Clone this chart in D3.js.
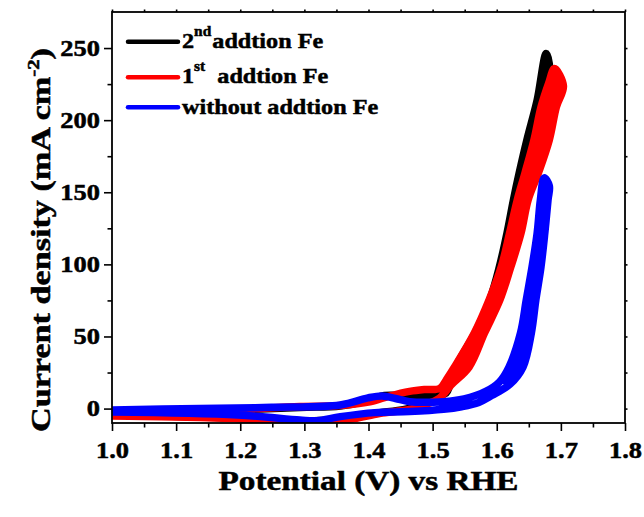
<!DOCTYPE html>
<html>
<head>
<meta charset="utf-8">
<script src="https://cdn.jsdelivr.net/npm/d3@7"></script>
<style>
  html, body { margin: 0; padding: 0; background: #fff; }
  svg { display: block; font-family: "Times New Roman", Tinos, "Liberation Serif", Times, serif; font-weight: bold; }
  svg text { font-family: "Times New Roman", Tinos, "Liberation Serif", Times, serif !important; font-weight: bold; stroke: #000; stroke-width: 0.5px; }
</style>
</head>
<body>
<svg id="chart" width="644" height="517"></svg>
<script>
// ---- axis ticks ----
const potentialTicks = [1.0, 1.1, 1.2, 1.3, 1.4, 1.5, 1.6, 1.7, 1.8];
const potentialMinorTicks = [1.05, 1.15, 1.25, 1.35, 1.45, 1.55, 1.65, 1.75];
const currentTicks = [0, 50, 100, 150, 200, 250];
const currentMinorTicks = [25, 75, 125, 175, 225];

// ---- CV scans: [potential (V vs RHE), current density (mA cm^-2)] ----
// each series: anodic scan at low current, the merged high-current band
// (anodic edge up to the turning point, cathodic edge back down), cathodic scan
const fe2Forward = [[1.000,-3.1],[1.137,-1.7],[1.293,0.8],[1.356,1.8],[1.398,5.3],[1.425,9.1],[1.464,8.7],[1.500,8.4],[1.521,10.8],[1.527,16.4]];
const fe2BandUp = [[1.536,28.8],[1.566,52.4],[1.589,75.3],[1.604,98.2],[1.616,121.8],[1.626,144.7],[1.635,163.4],[1.647,186.3],[1.663,213.9],[1.677,246.2]];
const fe2BandDown = [[1.682,239.0],[1.679,209.1],[1.671,186.3],[1.655,163.4],[1.641,144.7],[1.629,121.8],[1.615,98.2],[1.598,75.3],[1.573,52.4],[1.549,28.8]];
const fe2Reverse = [[1.523,16.4],[1.506,7.4],[1.482,2.5],[1.456,-0.6],[1.409,-3.4],[1.370,-6.5],[1.324,-8.3],[1.277,-8.3],[1.215,-7.2],[1.137,-5.8],[1.000,-4.4]];

const fe1Forward = [[1.000,-3.4],[1.137,-2.0],[1.215,-0.3],[1.293,1.5],[1.356,2.1],[1.402,4.6],[1.433,8.7],[1.464,11.9],[1.487,13.2],[1.511,13.9],[1.521,19.8]];
const fe1BandUp = [[1.534,28.8],[1.565,52.4],[1.588,75.3],[1.607,98.2],[1.620,121.8],[1.632,144.7],[1.644,163.4],[1.658,186.3],[1.669,209.1],[1.681,225.8],[1.690,235.8]];
const fe1BandDown = [[1.704,223.7],[1.693,209.1],[1.682,186.3],[1.665,163.4],[1.649,144.7],[1.638,121.8],[1.622,98.2],[1.605,75.3],[1.581,52.4],[1.557,28.8]];
const fe1Reverse = [[1.529,16.4],[1.511,7.4],[1.487,2.5],[1.464,-0.6],[1.417,-3.4],[1.378,-6.9],[1.339,-8.9],[1.293,-8.6],[1.215,-7.2],[1.137,-6.2],[1.000,-5.1]];

const noFeForward = [[1.000,-1.0],[1.137,0.1],[1.249,0.9],[1.356,2.5],[1.399,7.4],[1.421,8.7],[1.442,7.0],[1.464,4.8],[1.517,4.8],[1.549,6.7],[1.582,11.7],[1.604,18.4]];
const noFeBandUp = [[1.619,28.8],[1.637,52.4],[1.646,75.3],[1.655,98.2],[1.663,121.8],[1.668,144.7],[1.674,160.0]];
const noFeBandDown = [[1.682,154.4],[1.680,144.7],[1.675,121.8],[1.669,98.2],[1.661,75.3],[1.654,52.4],[1.641,28.8]];
const noFeReverse = [[1.621,17.0],[1.592,9.0],[1.572,4.3],[1.545,1.3],[1.517,-0.5],[1.464,-2.1],[1.410,-2.8],[1.356,-5.6],[1.319,-8.4],[1.293,-7.9],[1.196,-4.4],[1.000,-2.4]];

const seriesNames = ["2nd addtion Fe", "1st addtion Fe", "without addtion Fe"];
const seriesColors = ["#000000", "#ff0000", "#0000ff"];
const seriesScans = [
  { forward: fe2Forward, bandUp: fe2BandUp, bandDown: fe2BandDown, reverse: fe2Reverse },
  { forward: fe1Forward, bandUp: fe1BandUp, bandDown: fe1BandDown, reverse: fe1Reverse },
  { forward: noFeForward, bandUp: noFeBandUp, bandDown: noFeBandDown, reverse: noFeReverse }
];

// ---- layout ----
const svg = d3.select("#chart");
const plot = { left: 112, right: 625, top: 12, bottom: 423 };
const x = d3.scaleLinear().domain([1.0, 1.8]).range([plot.left, plot.right]);
const y = d3.scaleLinear().domain([-10, 275]).range([plot.bottom, plot.top]);
const textStretch = 1.15;

svg.append("defs").append("clipPath").attr("id", "plotClip")
  .append("rect")
  .attr("x", plot.left).attr("y", plot.top)
  .attr("width", plot.right - plot.left).attr("height", plot.bottom - plot.top);

// ---- curves ----
const curves = svg.append("g").attr("clip-path", "url(#plotClip)");
const scanLine = d3.line().x(d => x(d[0])).y(d => y(d[1])).curve(d3.curveCatmullRom.alpha(0.5));
const bandArea = d3.line().x(d => x(d[0])).y(d => y(d[1])).curve(d3.curveCatmullRomClosed.alpha(0.5));

seriesScans.forEach((s, i) => {
  const color = seriesColors[i];
  // solid band between the anodic and cathodic edges at high current,
  // closed through the last low-current anodic point and first cathodic point
  const bandOutline = [s.forward[s.forward.length - 1]]
    .concat(s.bandUp, s.bandDown, [s.reverse[0]]);
  curves.append("path")
    .attr("d", bandArea(bandOutline))
    .attr("fill", color)
    .attr("stroke", "none");
  // full scan loop
  curves.append("path")
    .attr("d", scanLine(s.forward.concat(s.bandUp, s.bandDown, s.reverse)))
    .attr("fill", "none")
    .attr("stroke", color)
    .attr("stroke-width", 7.5)
    .attr("stroke-linejoin", "round")
    .attr("stroke-linecap", "round");
});

// ---- axes ----
function styleAxis(g) {
  g.select(".domain").remove();
  g.attr("font-family", null).attr("font-size", null);
  g.selectAll(".tick line").attr("stroke", "#000").attr("stroke-width", 1.6);
  g.selectAll(".tick text")
    .attr("fill", "#000")
    .style("font-size", "23px");
}

const bottomAxis = svg.append("g").attr("transform", `translate(0,${plot.bottom})`)
  .call(d3.axisBottom(x).tickValues(potentialTicks).tickSize(8).tickFormat(d3.format(".1f")));
styleAxis(bottomAxis);
bottomAxis.selectAll(".tick text").attr("y", 19).attr("transform", `scale(${textStretch},1)`);

svg.append("g").attr("transform", `translate(0,${plot.bottom})`)
  .call(d3.axisBottom(x).tickValues(potentialMinorTicks).tickSize(4.5).tickFormat(""))
  .call(styleAxis);

const leftAxis = svg.append("g").attr("transform", `translate(${plot.left},0)`)
  .call(d3.axisLeft(y).tickValues(currentTicks).tickSize(8).tickFormat(d3.format("d")));
styleAxis(leftAxis);
leftAxis.selectAll(".tick text").attr("x", -12 / textStretch).attr("transform", `scale(${textStretch},1)`);

svg.append("g").attr("transform", `translate(${plot.left},0)`)
  .call(d3.axisLeft(y).tickValues(currentMinorTicks).tickSize(4.5).tickFormat(""))
  .call(styleAxis);

// mirrored short ticks on the top and right edges
svg.append("g").attr("transform", `translate(0,${plot.top})`)
  .call(d3.axisTop(x).tickValues(potentialTicks.concat(potentialMinorTicks)).tickSize(2.5).tickFormat(""))
  .call(styleAxis);
svg.append("g").attr("transform", `translate(${plot.right},0)`)
  .call(d3.axisRight(y).tickValues(currentTicks.concat(currentMinorTicks)).tickSize(2.5).tickFormat(""))
  .call(styleAxis);

// frame
svg.append("rect")
  .attr("x", plot.left).attr("y", plot.top)
  .attr("width", plot.right - plot.left).attr("height", plot.bottom - plot.top)
  .attr("fill", "none").attr("stroke", "#000").attr("stroke-width", 1.8);

// ---- axis titles ----
svg.append("text")
  .attr("x", (plot.left + plot.right) / 2).attr("y", 490)
  .attr("text-anchor", "middle")
  .attr("textLength", 300).attr("lengthAdjust", "spacingAndGlyphs")
  .style("font-size", "28px")
  .text("Potential (V) vs RHE");

const yTitle = svg.append("text")
  .attr("transform", "translate(50,240) rotate(-90)")
  .attr("text-anchor", "middle")
  .attr("textLength", 384).attr("lengthAdjust", "spacingAndGlyphs")
  .style("font-size", "28px");
yTitle.append("tspan").text("Current density (mA cm");
yTitle.append("tspan").attr("dy", -11).style("font-size", "17px").text("-2");
yTitle.append("tspan").attr("dy", 11).text(")");

// ---- legend ----
const legendLineY = [41.7, 77.3, 107.3];
const legendTextY = [48.3, 83.3, 113.5];
const legend = svg.append("g");
seriesNames.forEach((name, i) => {
  legend.append("line")
    .attr("x1", 128).attr("x2", 178)
    .attr("y1", legendLineY[i]).attr("y2", legendLineY[i])
    .attr("stroke", seriesColors[i]).attr("stroke-width", 4.5)
    .attr("stroke-linecap", "round");
  const t = legend.append("text")
    .attr("transform", `translate(182,${legendTextY[i]}) scale(1.1,1)`)
    .style("font-size", "22px");
  const m = name.match(/^(\d)(st|nd|rd|th) (.*)$/);
  if (m) {
    t.append("tspan").text(m[1]);
    t.append("tspan").attr("dy", -12).style("font-size", "14px").text(m[2]);
    t.append("tspan").attr("dy", 12).attr("dx", m[2] === "st" ? 11 : 1).text(m[3]);
  } else {
    t.text(name);
  }
});
</script>
</body>
</html>
